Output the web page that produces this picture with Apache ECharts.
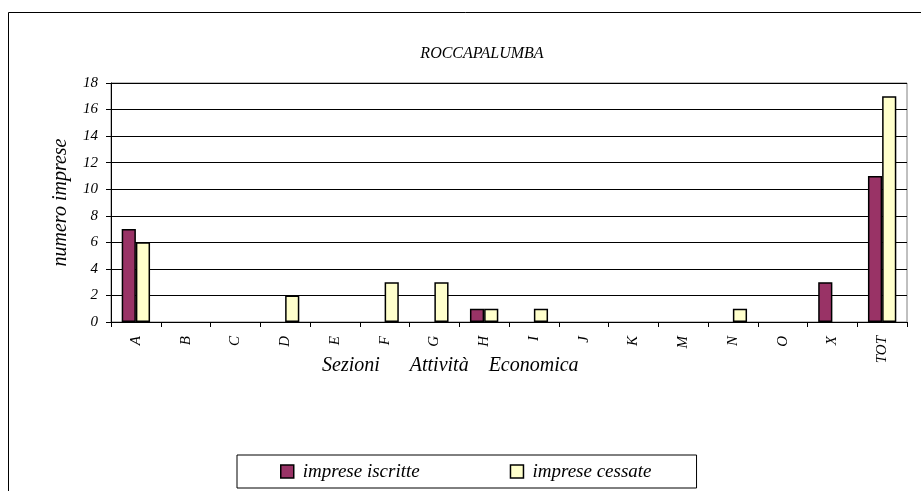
<!DOCTYPE html>
<html><head><meta charset="utf-8">
<script src="https://cdn.jsdelivr.net/npm/echarts@6/dist/echarts.min.js"></script>
<style>html,body{margin:0;padding:0;background:#fff}#c{width:921px;height:491px}</style>
</head><body><div id="c"></div>
<script>
const categories = ['A','B','C','D','E','F','G','H','I','J','K','M','N','O','X','TOT'];
const iscritte = [7,0,0,0,0,0,0,1,0,0,0,0,0,0,3,11];
const cessate  = [6,0,0,2,0,3,3,1,1,0,0,0,1,0,0,17];
const yTicks = {min:0, max:18, interval:2};
const font = 'Liberation Serif, Times New Roman, serif';
const hideZero = arr => arr.map(v => v === 0 ? '-' : v);

const chart = echarts.init(document.getElementById('c'), null, {renderer:'canvas'});
chart.setOption({
  animation:false,
  backgroundColor:'#fff',
  title:{text:'ROCCAPALUMBA', left:477, top:41, textAlign:'center',
    textStyle:{fontFamily:font, fontStyle:'italic', fontWeight:'normal', fontSize:16, color:'#000'}},
  grid:{left:111, right:14, top:83, bottom:169, show:true, borderColor:'#808080', borderWidth:1},
  legend:{left:237, top:455, padding:[7,45,7,43], itemGap:90, itemWidth:13, itemHeight:13,
    borderColor:'#000', borderWidth:1, icon:'rect',
    itemStyle:{borderColor:'#000', borderWidth:1.5},
    textStyle:{fontFamily:font, fontStyle:'italic', fontSize:19, color:'#000', padding:[0,0,0,4]}},
  xAxis:{type:'category', data:categories,
    axisLine:{lineStyle:{color:'#000'}},
    axisTick:{show:true, length:5, lineStyle:{color:'#000'}},
    axisLabel:{rotate:90, margin:14, fontFamily:font, fontStyle:'italic', fontSize:15, color:'#000'}},
  yAxis:{type:'value', min:yTicks.min, max:yTicks.max, interval:yTicks.interval,
    name:'numero imprese', nameLocation:'middle', nameGap:40, nameRotate:90,
    nameTextStyle:{fontFamily:font, fontStyle:'italic', fontSize:20, color:'#000'},
    axisLine:{show:true, lineStyle:{color:'#000'}},
    axisTick:{show:true, length:5, lineStyle:{color:'#000'}},
    splitLine:{lineStyle:{color:'#000', width:1}},
    axisLabel:{margin:13, fontFamily:font, fontStyle:'italic', fontSize:15, color:'#000'}},
  graphic:[
    {type:'rect', shape:{x:8.5, y:12.5, width:1000, height:1000}, style:{fill:'none', stroke:'#000', lineWidth:1}, z:-1},
    {type:'text', left:322, top:356, style:{text:'Sezioni      Attività    Economica', font:'italic 20px '+font, fill:'#000'}}
  ],
  series:[
    {name:'imprese iscritte', type:'bar', data:hideZero(iscritte), barGap:'0%', barCategoryGap:'43%',
      itemStyle:{color:'#993366', borderColor:'#000', borderWidth:1.5}},
    {name:'imprese cessate', type:'bar', data:hideZero(cessate),
      itemStyle:{color:'#FFFFCC', borderColor:'#000', borderWidth:1.5}}
  ]
});
</script></body></html>
